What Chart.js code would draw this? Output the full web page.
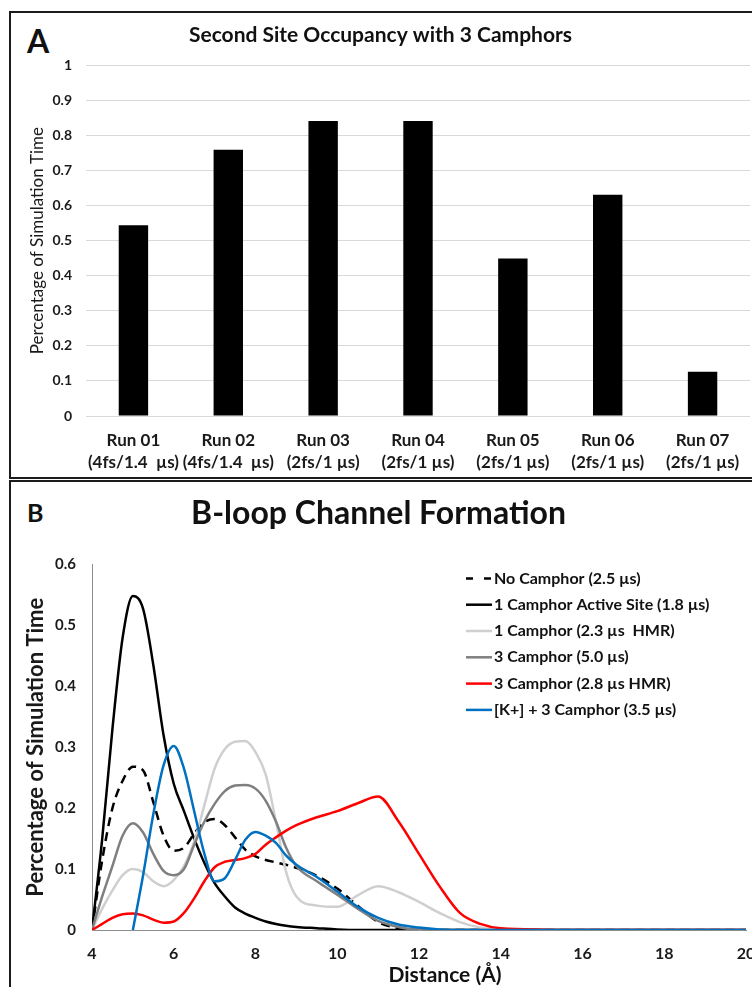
<!DOCTYPE html>
<html lang="en">
<head>
  <meta charset="UTF-8" />
  <title>Second Site Occupancy / B-loop Channel Formation</title>
  <script src="https://cdn.jsdelivr.net/npm/chart.js"></script>
  <style>
    body { margin:0; width:752px; height:987px; overflow:hidden; background:#fff; font-family:Lato, sans-serif; position:relative; }
    .panel { position:absolute; left:9px; width:800px; border:2px solid #1b1b1b; box-sizing:border-box; }
    #panelA { top:11px; height:468px; }
    #panelB { top:480px; height:560px; }
    .tag { position:absolute; font-weight:bold; line-height:1; color:#111; }
    .box { position:absolute; }
  </style>
</head>
<body>
  <div id="panelA" class="panel"></div>
  <div id="panelB" class="panel"></div>
  <div class="tag" style="left:27px; top:25px; font-size:32px;">A</div>
  <div class="tag" style="left:27px; top:500px; font-size:25px;">B</div>
  <div class="box" style="left:11px; top:13px; width:750px; height:466px;"><canvas id="chartA"></canvas></div>
  <div class="box" style="left:11px; top:483px; width:750px; height:504px;"><canvas id="chartB"></canvas></div>

  <script>
    // ---- panel A: second site occupancy ----
    const runLabels = [
      ['Run 01', '(4fs/1.4  µs)'],
      ['Run 02', '(4fs/1.4  µs)'],
      ['Run 03', '(2fs/1 µs)'],
      ['Run 04', '(2fs/1 µs)'],
      ['Run 05', '(2fs/1 µs)'],
      ['Run 06', '(2fs/1 µs)'],
      ['Run 07', '(2fs/1 µs)']
    ];
    const occupancy = [0.544, 0.759, 0.841, 0.841, 0.449, 0.631, 0.126];
    const occupancyTicks = [0, 0.1, 0.2, 0.3, 0.4, 0.5, 0.6, 0.7, 0.8, 0.9, 1];

    // ---- panel B: B-loop channel formation ----
    const distance = [4, 4.25, 4.5, 4.75, 5, 5.25, 5.5, 5.75, 6, 6.25, 6.5, 6.75, 7, 7.25, 7.5, 7.75,
                      8, 8.25, 8.5, 8.75, 9, 9.5, 10, 10.5, 11, 11.5, 12, 12.5, 13, 13.5, 14, 16, 18, 20];
    const noCamphor   = [0, 0.115, 0.2, 0.245, 0.268, 0.262, 0.21, 0.155, 0.13, 0.135, 0.158, 0.177, 0.182, 0.172, 0.152, 0.132,
                         0.121, 0.115, 0.111, 0.107, 0.102, 0.089, 0.068, 0.04, 0.013, 0.003, 0, 0, 0, 0, 0, 0, 0, 0];
    const activeSite  = [0, 0.15, 0.33, 0.48, 0.548, 0.527, 0.435, 0.32, 0.24, 0.195, 0.15, 0.11, 0.077, 0.055, 0.037, 0.027,
                         0.02, 0.014, 0.01, 0.007, 0.005, 0.003, 0.001, 0, 0, 0, 0, 0, 0, 0, 0, 0, 0, 0];
    const oneHmr      = [0, 0.035, 0.065, 0.09, 0.1, 0.095, 0.08, 0.072, 0.082, 0.105, 0.145, 0.205, 0.265, 0.297, 0.309, 0.31,
                         0.292, 0.255, 0.178, 0.095, 0.055, 0.04, 0.038, 0.057, 0.072, 0.062, 0.046, 0.028, 0.013, 0.004, 0, 0, 0, 0];
    const threeCamph  = [0, 0.055, 0.105, 0.155, 0.175, 0.16, 0.125, 0.097, 0.09, 0.1, 0.14, 0.178, 0.207, 0.228, 0.237, 0.238,
                         0.232, 0.212, 0.178, 0.135, 0.105, 0.08, 0.058, 0.035, 0.015, 0.005, 0, 0, 0, 0, 0, 0, 0, 0];
    const threeHmr    = [0, 0.01, 0.02, 0.026, 0.027, 0.024, 0.017, 0.012, 0.014, 0.028, 0.052, 0.08, 0.103, 0.112, 0.115, 0.118,
                         0.125, 0.14, 0.152, 0.163, 0.172, 0.185, 0.195, 0.208, 0.219, 0.178, 0.125, 0.072, 0.028, 0.01, 0.003, 0, 0, 0];
    const potassium   = [null, null, null, null, 0, 0.09, 0.19, 0.27, 0.302, 0.265, 0.195, 0.125, 0.08, 0.085, 0.115, 0.148,
                         0.161, 0.155, 0.143, 0.122, 0.107, 0.087, 0.063, 0.038, 0.02, 0.009, 0.004, 0.001, 0, 0, 0, 0, 0, 0];
    const fractionTicks = [0, 0.1, 0.2, 0.3, 0.4, 0.5, 0.6];
    const distanceTicks = [4, 6, 8, 10, 12, 14, 16, 18, 20];

    Chart.defaults.font.family = 'Lato, sans-serif';
    Chart.defaults.color = '#1a1a1a';

    new Chart(document.getElementById('chartA'), {
      type: 'bar',
      data: {
        labels: runLabels,
        datasets: [{ data: occupancy, backgroundColor: '#000', barPercentage: 0.31, categoryPercentage: 1 }]
      },
      options: {
        responsive: true,
        maintainAspectRatio: false,
        animation: false,
        layout: { padding: { left: 0, right: 11, top: 0, bottom: 0 } },
        plugins: {
          legend: { display: false },
          tooltip: { enabled: false },
          title: { display: true, text: 'Second Site Occupancy with 3 Camphors', color: '#111',
                   font: { size: 21, weight: 'bold' }, padding: { top: 10, bottom: 17 } }
        },
        scales: {
          x: {
            grid: { display: false, drawTicks: false },
            border: { display: false },
            ticks: { font: { size: 17, weight: 'bold', lineHeight: 1.3 }, padding: 13, maxRotation: 0, autoSkip: false },
            afterFit: s => { s.height = 63; }
          },
          y: {
            min: 0, max: 1,
            afterBuildTicks: s => { s.ticks = occupancyTicks.map(v => ({ value: v })); },
            grid: { color: '#d9d9d9', drawTicks: false },
            border: { display: false },
            ticks: { font: { size: 14, weight: 'bold' }, padding: 14, callback: v => String(v) },
            title: { display: true, text: 'Percentage of Simulation Time', font: { size: 17 }, padding: { top: 16, bottom: 0 } },
            afterFit: s => { s.width = 75; }
          }
        }
      }
    });

    const toPoints = vals => distance.map((d, i) => ({ x: d, y: vals[i] }));

    // legend + x title drawn at the spots they take in the original figure
    const legendB = {
      id: 'legendB',
      afterDraw(chart) {
        const ctx = chart.ctx, a = chart.chartArea;
        const x0 = a.left + 374, y0 = a.top + 14, step = 26.3;
        ctx.save();
        ctx.font = 'bold 16px Lato, sans-serif';
        ctx.textBaseline = 'middle';
        chart.data.datasets.forEach((ds, i) => {
          const y = y0 + i * step;
          ctx.strokeStyle = ds.borderColor;
          ctx.lineWidth = 2.5;
          ctx.setLineDash(ds.borderDash ? [7, 11] : []);
          ctx.beginPath(); ctx.moveTo(x0, y); ctx.lineTo(x0 + 26, y); ctx.stroke();
          ctx.fillStyle = '#111';
          ctx.fillText(ds.label, x0 + 28, y);
        });
        ctx.setLineDash([]);
        ctx.font = 'bold 21px Lato, sans-serif';
        ctx.textAlign = 'center';
        ctx.fillText('Distance (Å)', a.left + 353, a.bottom + 45);
        ctx.restore();
      }
    };

    const line = (label, vals, color, order, dash) => ({
      label, data: toPoints(vals), borderColor: color, borderWidth: 2.5,
      borderDash: dash, pointRadius: 0, cubicInterpolationMode: 'monotone', order
    });

    new Chart(document.getElementById('chartB'), {
      type: 'line',
      data: {
        datasets: [
          line('No Camphor (2.5 µs)', noCamphor, '#000', 6, [9, 6]),
          line('1 Camphor Active Site (1.8 µs)', activeSite, '#000', 5),
          line('1 Camphor (2.3 µs  HMR)', oneHmr, '#cfcfcf', 4),
          line('3 Camphor (5.0 µs)', threeCamph, '#7f7f7f', 3),
          line('3 Camphor (2.8 µs HMR)', threeHmr, '#ff0000', 2),
          line('[K+] + 3 Camphor (3.5 µs)', potassium, '#0070c0', 1)
        ]
      },
      options: {
        responsive: true,
        maintainAspectRatio: false,
        animation: false,
        layout: { padding: { left: 0, right: 15, top: 0, bottom: 0 } },
        plugins: {
          legend: { display: false },
          tooltip: { enabled: false },
          title: { display: true, text: 'B-loop Channel Formation', color: '#111',
                   font: { size: 32, weight: 'bold' }, padding: { top: 11, bottom: 32 } }
        },
        scales: {
          x: {
            type: 'linear', min: 4, max: 20,
            afterBuildTicks: s => { s.ticks = distanceTicks.map(v => ({ value: v })); },
            grid: { display: false, drawTicks: false },
            border: { display: true, color: '#8c8c8c', width: 1 },
            ticks: { font: { size: 16, weight: 'bold' }, padding: 14, callback: v => String(v) },
            afterFit: s => { s.height = 57; s.paddingRight = 0; }
          },
          y: {
            min: 0, max: 0.6,
            afterBuildTicks: s => { s.ticks = fractionTicks.map(v => ({ value: v })); },
            grid: { display: false, drawTicks: false },
            border: { display: true, color: '#8c8c8c', width: 1 },
            ticks: { font: { size: 15, weight: 'bold' }, padding: 16, callback: v => String(v) },
            title: { display: true, text: 'Percentage of Simulation Time', font: { size: 22, weight: 'bold' }, padding: { top: 12, bottom: 0 } },
            afterFit: s => { s.width = 81; }
          }
        }
      },
      plugins: [legendB]
    });
  </script>
</body>
</html>
